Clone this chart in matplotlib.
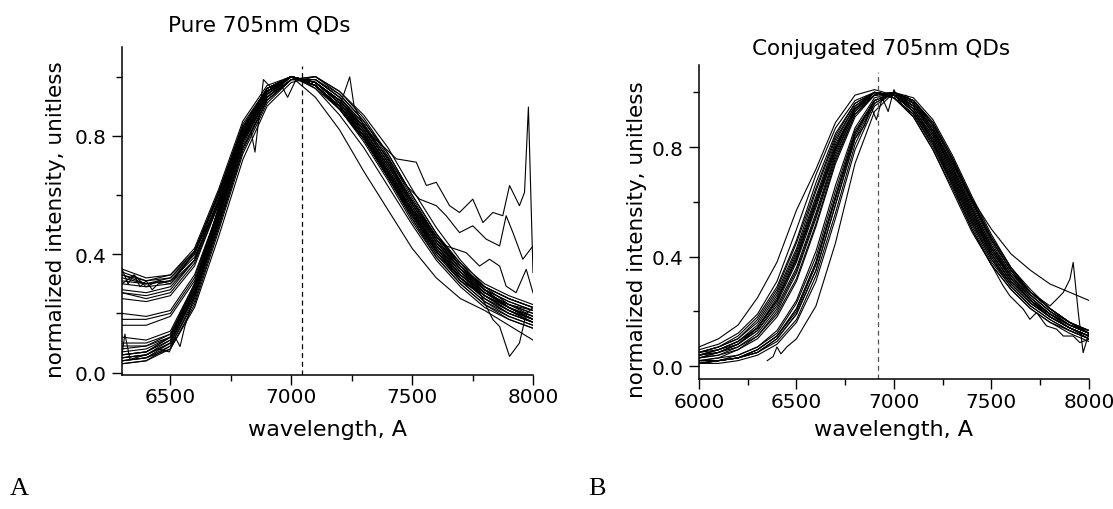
import matplotlib
matplotlib.use("Agg")
import matplotlib.pyplot as plt
import numpy as np
from matplotlib.ticker import MultipleLocator

plt.rcParams['font.family'] = ['DejaVu Sans']

# ---- Panel A: pure 705nm QDs (100 A grid) ----
wl_a = [6300, 6400, 6500, 6600, 6700, 6800, 6900, 7000, 7100, 7200,
        7300, 7400, 7500, 7600, 7700, 7800, 7900, 8000]

a_high_tail = [
    [0.34, 0.31, 0.32, 0.41, 0.61, 0.84, 0.96, 1.00, 0.98, 0.91, 0.82, 0.70, 0.57, 0.45, 0.36, 0.29, 0.25, 0.22],
    [0.33, 0.30, 0.31, 0.40, 0.60, 0.83, 0.96, 1.00, 0.97, 0.90, 0.80, 0.68, 0.55, 0.43, 0.34, 0.28, 0.24, 0.21],
    [0.32, 0.30, 0.31, 0.39, 0.58, 0.81, 0.95, 1.00, 0.98, 0.92, 0.83, 0.71, 0.58, 0.46, 0.37, 0.30, 0.26, 0.23],
    [0.35, 0.32, 0.33, 0.42, 0.62, 0.85, 0.97, 1.00, 0.97, 0.90, 0.81, 0.69, 0.56, 0.44, 0.35, 0.28, 0.24, 0.21],
    [0.30, 0.29, 0.30, 0.38, 0.59, 0.82, 0.95, 1.00, 0.98, 0.91, 0.82, 0.70, 0.57, 0.44, 0.35, 0.29, 0.25, 0.22],
    [0.28, 0.27, 0.29, 0.38, 0.58, 0.82, 0.96, 1.00, 0.97, 0.89, 0.79, 0.67, 0.54, 0.42, 0.33, 0.27, 0.23, 0.20],
    [0.27, 0.25, 0.27, 0.37, 0.57, 0.81, 0.95, 1.00, 0.98, 0.92, 0.83, 0.71, 0.58, 0.46, 0.36, 0.29, 0.25, 0.22],
    [0.25, 0.24, 0.26, 0.36, 0.57, 0.80, 0.94, 1.00, 0.97, 0.90, 0.80, 0.68, 0.55, 0.43, 0.34, 0.27, 0.23, 0.20],
]
a_mid_tail = [
    [0.20, 0.19, 0.21, 0.33, 0.55, 0.79, 0.94, 1.00, 0.97, 0.89, 0.79, 0.66, 0.53, 0.41, 0.32, 0.26, 0.22, 0.19],
    [0.18, 0.18, 0.20, 0.32, 0.55, 0.80, 0.95, 1.00, 0.98, 0.91, 0.81, 0.68, 0.55, 0.42, 0.33, 0.26, 0.21, 0.18],
    [0.16, 0.16, 0.19, 0.31, 0.54, 0.79, 0.94, 1.00, 0.97, 0.90, 0.80, 0.67, 0.54, 0.41, 0.32, 0.25, 0.21, 0.18],
]
a_low_tail = [
    [0.12, 0.11, 0.14, 0.30, 0.55, 0.80, 0.95, 1.00, 0.97, 0.89, 0.79, 0.66, 0.52, 0.40, 0.31, 0.24, 0.20, 0.17],
    [0.10, 0.10, 0.13, 0.29, 0.54, 0.79, 0.94, 1.00, 0.98, 0.91, 0.81, 0.68, 0.54, 0.41, 0.32, 0.25, 0.20, 0.17],
    [0.08, 0.09, 0.13, 0.30, 0.56, 0.81, 0.95, 1.00, 0.97, 0.90, 0.79, 0.66, 0.52, 0.39, 0.30, 0.23, 0.19, 0.16],
    [0.07, 0.08, 0.12, 0.28, 0.53, 0.78, 0.93, 1.00, 0.98, 0.92, 0.82, 0.69, 0.55, 0.42, 0.32, 0.25, 0.20, 0.17],
    [0.06, 0.07, 0.11, 0.27, 0.52, 0.78, 0.93, 0.99, 0.99, 0.93, 0.84, 0.72, 0.58, 0.45, 0.35, 0.27, 0.22, 0.18],
    [0.05, 0.06, 0.10, 0.26, 0.51, 0.77, 0.93, 0.99, 0.99, 0.93, 0.83, 0.71, 0.57, 0.44, 0.34, 0.26, 0.21, 0.17],
    [0.05, 0.06, 0.11, 0.28, 0.54, 0.80, 0.95, 1.00, 0.97, 0.89, 0.78, 0.65, 0.51, 0.39, 0.30, 0.23, 0.18, 0.15],
    [0.04, 0.05, 0.10, 0.27, 0.53, 0.79, 0.94, 1.00, 0.98, 0.91, 0.81, 0.68, 0.54, 0.41, 0.31, 0.24, 0.19, 0.16],
    [0.04, 0.05, 0.09, 0.25, 0.50, 0.76, 0.92, 0.99, 0.99, 0.94, 0.85, 0.73, 0.59, 0.46, 0.36, 0.28, 0.22, 0.18],
    [0.03, 0.04, 0.09, 0.24, 0.49, 0.75, 0.92, 0.99, 1.00, 0.94, 0.85, 0.74, 0.60, 0.47, 0.36, 0.28, 0.22, 0.18],
    [0.03, 0.04, 0.08, 0.23, 0.48, 0.74, 0.91, 0.99, 1.00, 0.95, 0.86, 0.74, 0.60, 0.47, 0.37, 0.28, 0.22, 0.18],
    [0.06, 0.07, 0.12, 0.29, 0.56, 0.82, 0.96, 1.00, 0.96, 0.87, 0.76, 0.63, 0.50, 0.38, 0.29, 0.22, 0.18, 0.15],
    [0.09, 0.09, 0.12, 0.27, 0.52, 0.78, 0.93, 1.00, 0.98, 0.92, 0.82, 0.70, 0.56, 0.43, 0.33, 0.26, 0.21, 0.17],
    [0.04, 0.05, 0.08, 0.22, 0.46, 0.72, 0.90, 0.98, 1.00, 0.95, 0.87, 0.76, 0.62, 0.49, 0.38, 0.29, 0.23, 0.19],
    [0.05, 0.06, 0.10, 0.26, 0.52, 0.79, 0.95, 1.00, 0.93, 0.82, 0.68, 0.55, 0.42, 0.32, 0.25, 0.21, 0.16, 0.11],
]

# noisy spectra in panel A, each with its own sampling
a_noisy_wl = [
    [6300, 6400, 6500, 6600, 6700, 6800, 6900, 7000, 7100, 7200, 7242, 7260, 7311, 7435, 7517, 7559,
     7600, 7655, 7696, 7751, 7793, 7834, 7875, 7903, 7944, 7965, 7981, 8000],
    [6300, 6400, 6500, 6600, 6700, 6800, 6900, 7000, 7100, 7200, 7300, 7393, 7476, 7531, 7600, 7641,
     7696, 7751, 7806, 7862, 7889, 7917, 7958, 8000],
    [6300, 6400, 6500, 6600, 6700, 6800, 6900, 7000, 7100, 7200, 7300, 7400, 7500, 7600, 7641, 7724,
     7779, 7820, 7862, 7889, 7930, 7972, 8000],
    [6300, 6400, 6500, 6600, 6700, 6800, 6900, 7000, 7100, 7200, 7300, 7400, 7500, 7600, 7700, 7779,
     7834, 7862, 7889, 7903, 7944, 7972, 8000],
    [6300, 6350, 6400, 6450, 6500, 6550, 6600, 6650, 6700, 6750, 6800, 6830, 6850, 6885, 6920, 6960,
     6985, 7020, 7060, 7100, 7200, 7300, 7400, 7500, 7600, 7700, 7800, 7900, 8000],
    [6300, 6312, 6333, 6400, 6450, 6496, 6520, 6540, 6560, 6600, 6700, 6800, 6900, 7000, 7100, 7200,
     7300, 7400, 7500, 7600, 7700, 7800, 7900, 8000],
    [6300, 6325, 6350, 6375, 6400, 6425, 6450, 6500, 6550, 6600, 6700, 6800, 6900, 7000, 7100, 7200,
     7300, 7400, 7500, 7600, 7700, 7800, 7900, 8000],
]
a_noisy_val = [
    [0.33, 0.31, 0.33, 0.41, 0.60, 0.83, 0.96, 1.00, 0.97, 0.90, 0.999, 0.90, 0.818, 0.722, 0.711, 0.632,
     0.643, 0.564, 0.541, 0.586, 0.507, 0.541, 0.530, 0.632, 0.564, 0.609, 0.897, 0.338],
    [0.31, 0.30, 0.32, 0.40, 0.60, 0.82, 0.95, 1.00, 0.98, 0.92, 0.83, 0.733, 0.632, 0.586, 0.564, 0.530,
     0.473, 0.496, 0.451, 0.428, 0.530, 0.473, 0.383, 0.428],
    [0.27, 0.26, 0.28, 0.38, 0.58, 0.81, 0.95, 1.00, 0.97, 0.90, 0.80, 0.68, 0.55, 0.46, 0.428, 0.405,
     0.360, 0.383, 0.360, 0.292, 0.270, 0.349, 0.270],
    [0.06, 0.07, 0.12, 0.29, 0.55, 0.80, 0.95, 1.00, 0.97, 0.90, 0.80, 0.67, 0.53, 0.40, 0.31, 0.270,
     0.179, 0.156, 0.089, 0.055, 0.100, 0.200, 0.220],
    [0.30, 0.33, 0.29, 0.31, 0.30, 0.35, 0.41, 0.49, 0.58, 0.70, 0.79, 0.83, 0.745, 0.99, 0.96, 0.97,
     0.93, 0.99, 0.98, 0.96, 0.89, 0.79, 0.66, 0.53, 0.41, 0.32, 0.26, 0.22, 0.19],
    [0.06, 0.13, 0.045, 0.06, 0.08, 0.07, 0.12, 0.088, 0.156, 0.26, 0.50, 0.76, 0.92, 0.99, 0.99, 0.93,
     0.84, 0.72, 0.58, 0.45, 0.35, 0.27, 0.22, 0.18],
    [0.35, 0.30, 0.33, 0.29, 0.31, 0.28, 0.30, 0.31, 0.35, 0.41, 0.61, 0.83, 0.96, 1.00, 0.97, 0.89,
     0.79, 0.67, 0.54, 0.42, 0.33, 0.27, 0.23, 0.21],
]
peak_a = 7045

# ---- Panel B: conjugated 705nm QDs ----
wl_b = [6000, 6100, 6200, 6300, 6400, 6500, 6600, 6700, 6800, 6900, 7000,
        7100, 7200, 7300, 7400, 7500, 7600, 7700, 7800, 7900, 8000]

b_blue_group = [
    [0.07, 0.10, 0.15, 0.25, 0.38, 0.57, 0.72, 0.89, 0.99, 1.01, 0.99, 0.95, 0.86, 0.74, 0.61, 0.50, 0.41, 0.35, 0.30, 0.27, 0.24],
    [0.06, 0.08, 0.12, 0.19, 0.31, 0.50, 0.70, 0.87, 0.97, 1.00, 0.98, 0.92, 0.81, 0.67, 0.52, 0.39, 0.30, 0.23, 0.18, 0.14, 0.11],
    [0.05, 0.07, 0.11, 0.18, 0.29, 0.46, 0.67, 0.85, 0.96, 1.00, 0.99, 0.93, 0.82, 0.68, 0.53, 0.40, 0.30, 0.23, 0.18, 0.14, 0.11],
    [0.05, 0.07, 0.10, 0.16, 0.27, 0.43, 0.64, 0.83, 0.95, 1.00, 0.98, 0.92, 0.80, 0.66, 0.51, 0.38, 0.29, 0.22, 0.17, 0.13, 0.10],
    [0.04, 0.06, 0.09, 0.15, 0.26, 0.42, 0.62, 0.82, 0.95, 1.00, 0.99, 0.94, 0.83, 0.69, 0.54, 0.41, 0.31, 0.24, 0.19, 0.15, 0.12],
    [0.04, 0.05, 0.08, 0.14, 0.24, 0.39, 0.60, 0.80, 0.94, 1.00, 0.99, 0.93, 0.82, 0.68, 0.53, 0.40, 0.30, 0.23, 0.18, 0.14, 0.11],
    [0.03, 0.05, 0.08, 0.13, 0.23, 0.38, 0.58, 0.79, 0.94, 1.00, 0.98, 0.91, 0.79, 0.65, 0.50, 0.37, 0.28, 0.21, 0.16, 0.13, 0.10],
    [0.05, 0.06, 0.08, 0.13, 0.22, 0.36, 0.56, 0.78, 0.93, 0.99, 1.00, 0.95, 0.85, 0.71, 0.56, 0.42, 0.32, 0.25, 0.19, 0.15, 0.12],
    [0.04, 0.05, 0.07, 0.12, 0.21, 0.35, 0.55, 0.77, 0.93, 1.00, 0.99, 0.93, 0.82, 0.67, 0.52, 0.39, 0.29, 0.22, 0.17, 0.13, 0.10],
    [0.03, 0.04, 0.07, 0.11, 0.20, 0.34, 0.54, 0.76, 0.92, 0.99, 1.00, 0.94, 0.84, 0.70, 0.55, 0.41, 0.31, 0.24, 0.18, 0.14, 0.11],
    [0.03, 0.04, 0.06, 0.11, 0.19, 0.32, 0.52, 0.75, 0.92, 0.99, 1.00, 0.95, 0.85, 0.71, 0.56, 0.43, 0.33, 0.25, 0.19, 0.15, 0.12],
    [0.02, 0.03, 0.06, 0.10, 0.18, 0.31, 0.51, 0.74, 0.91, 0.99, 1.00, 0.95, 0.85, 0.72, 0.57, 0.43, 0.33, 0.26, 0.20, 0.16, 0.13],
    [0.04, 0.06, 0.09, 0.14, 0.25, 0.41, 0.61, 0.81, 0.94, 0.99, 0.99, 0.93, 0.83, 0.69, 0.54, 0.41, 0.31, 0.24, 0.19, 0.15, 0.13],
    [0.05, 0.07, 0.10, 0.17, 0.28, 0.45, 0.65, 0.84, 0.96, 1.00, 0.98, 0.91, 0.79, 0.64, 0.49, 0.37, 0.28, 0.21, 0.16, 0.12, 0.09],
    [0.03, 0.05, 0.08, 0.14, 0.24, 0.40, 0.60, 0.80, 0.94, 1.00, 0.99, 0.94, 0.84, 0.70, 0.55, 0.42, 0.32, 0.24, 0.18, 0.14, 0.10],
]
b_red_group = [
    [0.02, 0.02, 0.04, 0.07, 0.13, 0.24, 0.42, 0.66, 0.87, 0.98, 1.00, 0.96, 0.87, 0.74, 0.59, 0.45, 0.34, 0.26, 0.20, 0.15, 0.12],
    [0.02, 0.02, 0.03, 0.06, 0.11, 0.21, 0.38, 0.62, 0.85, 0.97, 1.00, 0.97, 0.88, 0.75, 0.60, 0.46, 0.35, 0.27, 0.21, 0.16, 0.13],
    [0.01, 0.02, 0.03, 0.05, 0.10, 0.19, 0.35, 0.59, 0.83, 0.96, 1.00, 0.97, 0.89, 0.76, 0.61, 0.47, 0.36, 0.27, 0.21, 0.16, 0.13],
    [0.01, 0.02, 0.03, 0.05, 0.09, 0.17, 0.33, 0.56, 0.81, 0.96, 1.00, 0.97, 0.88, 0.75, 0.60, 0.46, 0.35, 0.26, 0.20, 0.15, 0.12],
    [0.01, 0.01, 0.02, 0.04, 0.08, 0.16, 0.31, 0.54, 0.79, 0.95, 1.00, 0.98, 0.90, 0.77, 0.62, 0.48, 0.36, 0.27, 0.21, 0.16, 0.12],
    [0.02, 0.03, 0.04, 0.07, 0.12, 0.23, 0.40, 0.64, 0.86, 0.97, 1.00, 0.96, 0.86, 0.72, 0.57, 0.43, 0.32, 0.24, 0.18, 0.14, 0.11],
    [0.01, 0.02, 0.03, 0.06, 0.11, 0.20, 0.37, 0.61, 0.84, 0.97, 1.00, 0.96, 0.86, 0.73, 0.58, 0.44, 0.33, 0.25, 0.19, 0.14, 0.11],
]

b_noisy_wl = [
    [6000, 6100, 6200, 6300, 6400, 6500, 6600, 6700, 6800, 6900, 7000, 7100, 7200, 7300, 7400, 7500,
     7560, 7594, 7663, 7697, 7731, 7782, 7834, 7868, 7919, 7953, 8000],
    [6000, 6100, 6200, 6300, 6400, 6500, 6600, 6700, 6800, 6900, 7000, 7100, 7200, 7300, 7400, 7500,
     7600, 7700, 7800, 7834, 7868, 7902, 7919, 7945, 7970, 8000],
    [6000, 6100, 6200, 6300, 6400, 6500, 6600, 6700, 6800, 6850, 6880, 6910, 6940, 6970, 7000, 7030,
     7060, 7100, 7200, 7300, 7400, 7500, 7600, 7700, 7800, 7900, 8000],
    [6350, 6380, 6400, 6420, 6450, 6500, 6600, 6700, 6800, 6900, 7000, 7100, 7200, 7300, 7400, 7500,
     7600, 7700, 7800, 7900, 8000],
]
b_noisy_val = [
    [0.04, 0.06, 0.09, 0.14, 0.24, 0.39, 0.59, 0.79, 0.94, 1.00, 0.98, 0.92, 0.81, 0.66, 0.50, 0.37,
     0.293, 0.257, 0.208, 0.171, 0.196, 0.147, 0.135, 0.110, 0.110, 0.086, 0.098],
    [0.02, 0.02, 0.03, 0.06, 0.11, 0.21, 0.38, 0.62, 0.85, 0.97, 1.00, 0.96, 0.87, 0.73, 0.58, 0.44,
     0.34, 0.27, 0.22, 0.244, 0.269, 0.317, 0.379, 0.196, 0.049, 0.122],
    [0.01, 0.02, 0.03, 0.05, 0.10, 0.19, 0.35, 0.59, 0.83, 0.88, 0.95, 0.90, 0.98, 0.93, 1.01, 0.96,
     0.99, 0.96, 0.88, 0.75, 0.60, 0.46, 0.35, 0.27, 0.21, 0.16, 0.12],
    [0.02, 0.035, 0.07, 0.045, 0.07, 0.10, 0.22, 0.45, 0.74, 0.93, 1.00, 0.97, 0.89, 0.76, 0.61, 0.47,
     0.36, 0.28, 0.21, 0.16, 0.12],
]
peak_b = 6917

# ---- figure ----
fig = plt.figure(figsize=(11.13, 5.10), dpi=100)
ax_a = fig.add_axes([0.10961, 0.26275, 0.36927, 0.64314])
ax_b = fig.add_axes([0.62803, 0.2549, 0.35040, 0.61569])

lw = 0.8
for curve in a_high_tail + a_mid_tail + a_low_tail:
    ax_a.plot(wl_a, curve, color='black', lw=lw)
for wl, vals in zip(a_noisy_wl, a_noisy_val):
    ax_a.plot(wl, vals, color='black', lw=lw)
ax_a.axvline(peak_a, ymin=0, ymax=0.942, color='black', lw=0.9, ls=(0, (4, 3)))

for curve in b_blue_group + b_red_group:
    ax_b.plot(wl_b, curve, color='black', lw=lw)
for wl, vals in zip(b_noisy_wl, b_noisy_val):
    ax_b.plot(wl, vals, color='black', lw=lw)
ax_b.axvline(peak_b, ymin=0, ymax=0.978, color='#555555', lw=0.9, ls=(0, (4, 3)))


def style(ax, xlim, ylim):
    ax.set_xlim(*xlim)
    ax.set_ylim(*ylim)
    for s in ('top', 'right'):
        ax.spines[s].set_visible(False)
    for s in ('left', 'bottom'):
        ax.spines[s].set_linewidth(1.1)
    ax.xaxis.set_major_locator(MultipleLocator(500))
    ax.xaxis.set_minor_locator(MultipleLocator(250))
    ax.yaxis.set_major_locator(MultipleLocator(0.4))
    ax.yaxis.set_minor_locator(MultipleLocator(0.2))
    ax.tick_params(which='major', direction='out', length=7, width=1, labelsize=14.4)
    ax.tick_params(which='minor', direction='out', length=4, width=1)
    ax.tick_params(axis='x', pad=2)
    ax.tick_params(axis='y', pad=4)


style(ax_a, (6300, 8000), (-0.008, 1.10))
style(ax_b, (6000, 8000), (-0.047, 1.10))

W, H = 1113, 510
fig.text(259 / W, 1 - 25 / H, 'Pure 705nm QDs', ha='center', va='center', fontsize=15.5)
fig.text(752 / W, 1 - 49 / H, 'Conjugated 705nm QDs', ha='left', va='center', fontsize=15.5)
fig.text(56 / W, 1 - 220 / H, 'normalized intensity, unitless', rotation=90,
         ha='center', va='center', fontsize=15.5)
fig.text(637 / W, 1 - 240 / H, 'normalized intensity, unitless', rotation=90,
         ha='center', va='center', fontsize=15.5)
fig.text(327.5 / W, 1 - 430 / H, 'wavelength, A', ha='center', va='center', fontsize=16)
fig.text(894 / W, 1 - 430 / H, 'wavelength, A', ha='center', va='center', fontsize=16)
fig.text(10 / W, 1 - 489 / H, 'A', ha='left', va='center', fontsize=19, family='Liberation Serif')
fig.text(588 / W, 1 - 489 / H, 'B', ha='left', va='center', fontsize=19, family='Liberation Serif')

fig.savefig('out.png', dpi=100)
